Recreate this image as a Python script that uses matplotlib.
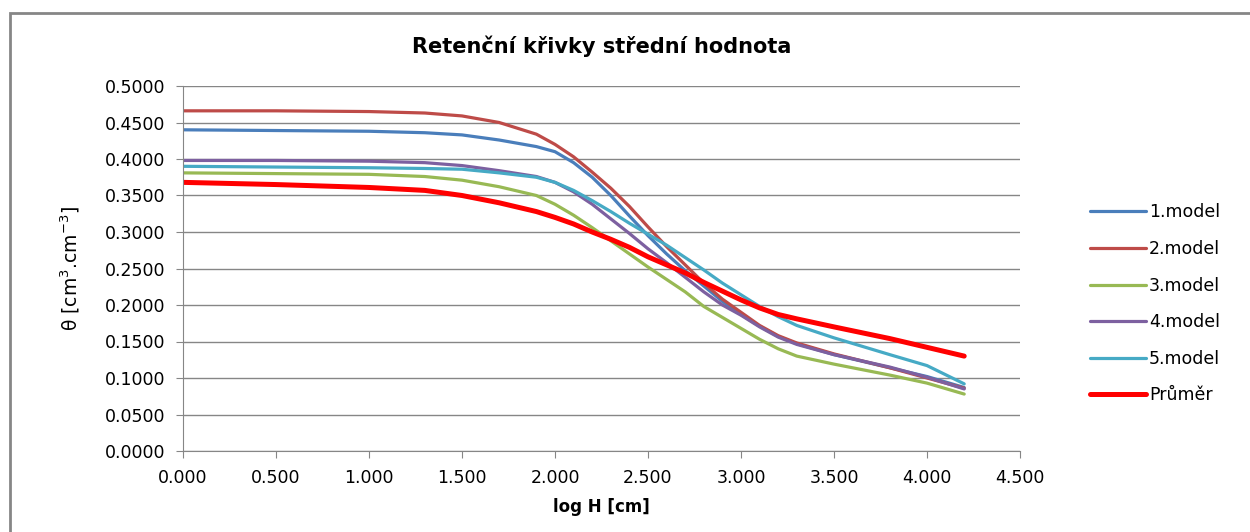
import matplotlib.pyplot as plt
import matplotlib.patches as mpatches
from matplotlib.ticker import FormatStrFormatter, MultipleLocator

# log H [cm]
x_common = [0.0, 0.5, 1.0, 1.3, 1.5, 1.7, 1.9, 2.0, 2.1, 2.2, 2.3, 2.4, 2.5, 2.6,
            2.7, 2.8, 2.9, 3.0, 3.1, 3.2, 3.3, 3.5, 3.8, 4.0, 4.2]

# theta [cm3.cm-3]
y_m1 = [0.440, 0.439, 0.438, 0.436, 0.433, 0.426, 0.417, 0.410, 0.395, 0.375, 0.350, 0.322, 0.295,
        0.270, 0.247, 0.226, 0.205, 0.187, 0.171, 0.157, 0.147, 0.132, 0.114, 0.102, 0.087]
y_m2 = [0.466, 0.466, 0.465, 0.463, 0.459, 0.450, 0.434, 0.420, 0.403, 0.382, 0.360, 0.335, 0.307,
        0.280, 0.255, 0.230, 0.208, 0.190, 0.172, 0.158, 0.148, 0.133, 0.114, 0.100, 0.086]
y_m3 = [0.381, 0.380, 0.379, 0.376, 0.371, 0.362, 0.350, 0.338, 0.323, 0.306, 0.288, 0.270, 0.252,
        0.235, 0.218, 0.198, 0.183, 0.168, 0.153, 0.140, 0.130, 0.119, 0.104, 0.093, 0.078]
y_m4 = [0.398, 0.398, 0.397, 0.395, 0.391, 0.384, 0.376, 0.368, 0.355, 0.338, 0.318, 0.298, 0.277,
        0.258, 0.238, 0.218, 0.200, 0.186, 0.170, 0.156, 0.146, 0.132, 0.115, 0.101, 0.085]
y_m5 = [0.390, 0.389, 0.388, 0.387, 0.386, 0.381, 0.375, 0.368, 0.357, 0.343, 0.328, 0.312, 0.297,
        0.282, 0.265, 0.248, 0.230, 0.214, 0.198, 0.184, 0.172, 0.155, 0.132, 0.117, 0.092]
y_avg = [0.368, 0.365, 0.361, 0.357, 0.350, 0.340, 0.328, 0.320, 0.311, 0.300, 0.290, 0.279, 0.266,
         0.255, 0.244, 0.231, 0.219, 0.207, 0.196, 0.187, 0.181, 0.170, 0.154, 0.142, 0.130]

series = [
    (y_m1, '1.model', '#4A7EBB', 2.3),
    (y_m2, '2.model', '#BE4B48', 2.3),
    (y_m3, '3.model', '#98B954', 2.3),
    (y_m4, '4.model', '#7D60A0', 2.3),
    (y_m5, '5.model', '#46AAC5', 2.3),
    (y_avg, 'Průměr', '#FF0000', 3.6),
]

fig = plt.figure(figsize=(12.5, 5.32), dpi=100)
fig.patches.append(mpatches.Rectangle((10 / 1250, -0.1), 1.2, (532 - 13) / 532 + 0.1,
                                      transform=fig.transFigure, fill=False,
                                      edgecolor='#868686', linewidth=2))
ax = fig.add_axes([183 / 1250, 81 / 532, 837 / 1250, 365 / 532])

for ys, name, col, lw in series:
    ax.plot(x_common, ys, color=col, linewidth=lw, label=name, solid_capstyle='round')

ax.set_xlim(0, 4.5)
ax.set_ylim(0, 0.5)
ax.xaxis.set_major_locator(MultipleLocator(0.5))
ax.yaxis.set_major_locator(MultipleLocator(0.05))
ax.xaxis.set_major_formatter(FormatStrFormatter('%.3f'))
ax.yaxis.set_major_formatter(FormatStrFormatter('%.4f'))
ax.grid(axis='y', color='#868686', linewidth=1)
ax.set_axisbelow(True)
for s in ['top', 'right']:
    ax.spines[s].set_visible(False)
for s in ['left', 'bottom']:
    ax.spines[s].set_color('#868686')
ax.tick_params(axis='both', colors='#868686', length=5, labelcolor='black')
ax.tick_params(axis='y', labelsize=12.5, pad=8)
ax.tick_params(axis='x', labelsize=12.5, pad=8)

ax.set_xlabel('log H [cm]', fontsize=12, fontweight='bold', labelpad=8)
ax.set_ylabel(r'θ [cm$^3$.cm$^{-3}$]', fontsize=13.5, labelpad=16)
ax.set_title('Retenční křivky střední hodnota', fontsize=15, fontweight='bold', pad=24)

ax.legend(loc='center left', bbox_to_anchor=(1.065, 0.403), frameon=False,
          fontsize=12.5, labelspacing=1.07, handlelength=3.2, handletextpad=0.2)

plt.savefig('out.png', dpi=100)
